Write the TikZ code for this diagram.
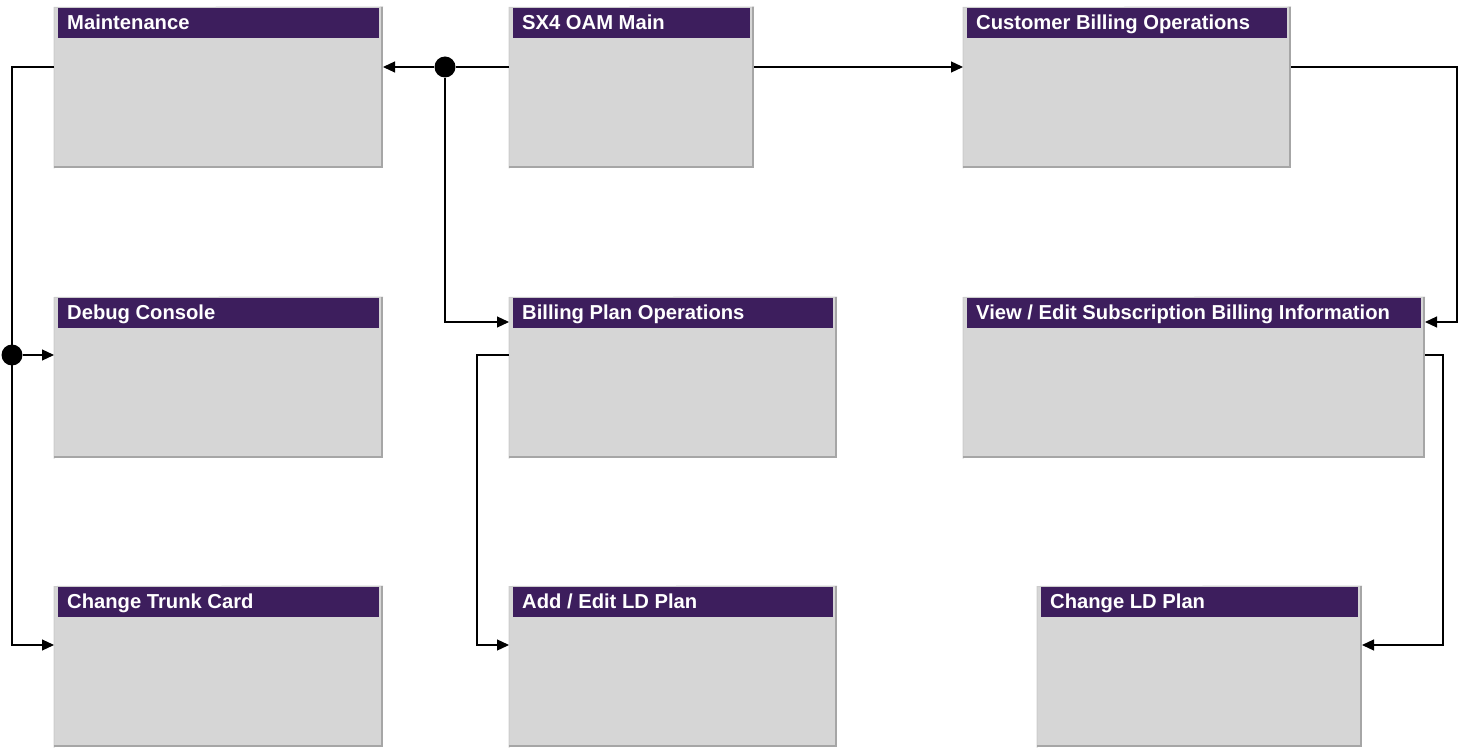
\documentclass[tikz,border=0pt]{standalone}
\usepackage{fontspec}
\setmainfont{Liberation Sans}
\usetikzlibrary{arrows.meta,calc}
\definecolor{hdrpurple}{HTML}{3D1E5D}
\definecolor{boxfill}{HTML}{D6D6D6}
\definecolor{boxedge}{HTML}{A6A6A6}
\definecolor{boxlight}{HTML}{CCCCCC}
\tikzset{
  screen/.style={draw=none, fill=boxfill, inner sep=0pt, outer sep=0pt,
    anchor=north west, minimum height=161pt},
  hdrtext/.style={text=white, font=\bfseries\fontsize{20.2}{23}\selectfont,
    inner sep=0pt, anchor=base west},
  link/.style={line width=1.2pt, -{Triangle[length=12pt,width=11pt]}},
  wire/.style={line width=1.2pt},
  junction/.style={circle, fill=black, inner sep=0pt, minimum size=21pt},
}
% screen box with shaded edges and a purple title bar
\newcommand{\screenbox}[5]{% name, x, y, width, title
  \node[screen, minimum width=#4pt] (#1) at (#2,#3) {};
  \draw[boxlight, line width=1pt] ([yshift=-0.5pt]#1.south west) -- ([yshift=-0.5pt]#1.north west) -- (#1.north east);
  \draw[boxedge, line width=2pt] ([xshift=-1pt]#1.north east) -- ([xshift=-1pt,yshift=1pt]#1.south east) -- ([yshift=1pt]#1.south west);
  \fill[hdrpurple] ([xshift=4pt,yshift=-1pt]#1.north west) rectangle ([xshift=-4pt,yshift=-31pt]#1.north east);
  \node[hdrtext] (#1-title) at ([xshift=13pt,yshift=-22.5pt]#1.north west) {#5};
}
\begin{document}
\begin{tikzpicture}[x=1pt,y=-1pt]
\useasboundingbox (0,0) rectangle (1458,751);

\screenbox{maint}{54}{7}{329}{Maintenance}
\screenbox{main}{509}{7}{245}{SX4 OAM Main}
\screenbox{cust}{963}{7}{328}{Customer Billing Operations}
\screenbox{debug}{54}{297}{329}{Debug Console}
\screenbox{plan}{509}{297}{328}{Billing Plan Operations}
\screenbox{subs}{963}{297}{462}{View / Edit Subscription Billing Information}
\screenbox{trunk}{54}{586}{329}{Change Trunk Card}
\screenbox{ldplan}{509}{586}{328}{Add / Edit LD Plan}
\screenbox{chld}{1037}{586}{325}{Change LD Plan}

% branch points
\node[junction] (j1) at (445,67) {};
\node[junction] (j2) at (12,355) {};

% main menu to maintenance and billing plans
\draw[wire] ([yshift=-60pt]main.north west) -- (j1);
\draw[link] (j1) -- ([yshift=-60pt]maint.north east);
\draw[link] (j1) |- ([yshift=-25pt]plan.north west);

% main menu to customer billing
\draw[link] ([yshift=-60pt]main.north east) -- ([yshift=-60pt]cust.north west);

% customer billing to subscription view
\draw[link] ([yshift=-60pt]cust.north east) -| (1457,322) -- ([yshift=-25pt]subs.north east);

% subscription view to LD plan change
\draw[link] ([yshift=-58pt]subs.north east) -| (1443,645) -- ([yshift=-59pt]chld.north east);

% maintenance to debug console and trunk card
\draw[link] ([yshift=-60pt]maint.north west) -| (12,645) -- ([yshift=-59pt]trunk.north west);
\draw[link] (j2) -- ([yshift=-58pt]debug.north west);

% billing plans to LD plan editing
\draw[link] ([yshift=-58pt]plan.north west) -| (477,645) -- ([yshift=-59pt]ldplan.north west);
\end{tikzpicture}
\end{document}
